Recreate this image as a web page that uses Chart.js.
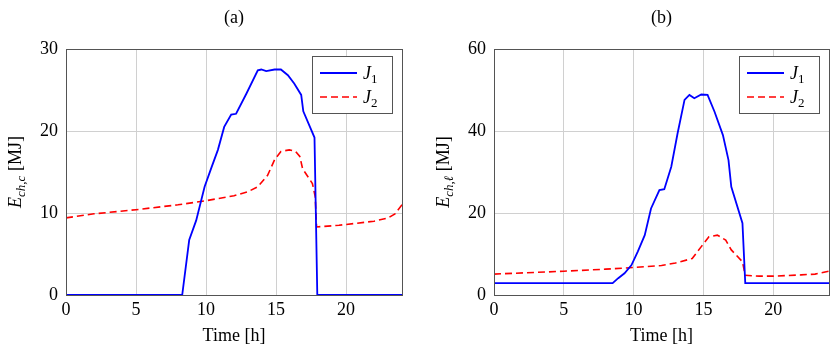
<!DOCTYPE html>
<html>
<head>
<meta charset="utf-8">
<script src="https://cdn.jsdelivr.net/npm/chart.js@4/dist/chart.umd.min.js"></script>
<style>
html, body { margin: 0; padding: 0; background: #fff; }
#wrap { position: relative; width: 830px; height: 353px; }
#chart-a { position: absolute; left: 0; top: 0; }
#chart-b { position: absolute; left: 415px; top: 0; }
</style>
</head>
<body>
<div id="wrap">
  <canvas id="chart-a" width="415" height="353"></canvas>
  <canvas id="chart-b" width="415" height="353"></canvas>
</div>
<script>
// (a) E_ch,c
const hoursA1 = [0, 8.3, 8.8, 9.3, 9.9, 10.4, 10.85, 11.3, 11.8, 12.15, 12.9, 13.7, 13.95, 14.3, 14.9, 15.35, 15.85, 16.3, 16.8, 16.95, 17.75, 17.95, 24];
const valuesA1 = [0, 0, 6.7, 9.1, 13.2, 15.6, 17.7, 20.5, 22.0, 22.1, 24.6, 27.4, 27.5, 27.3, 27.5, 27.5, 26.8, 25.8, 24.4, 22.4, 19.2, 0, 0];
const hoursA2 = [0, 2, 5, 8, 10, 12, 13, 13.7, 14.4, 14.9, 15.35, 15.95, 16.4, 16.7, 16.9, 17.6, 17.8, 17.9, 19.5, 22, 23, 23.5, 24];
const valuesA2 = [9.4, 9.9, 10.4, 11.0, 11.5, 12.1, 12.6, 13.2, 14.6, 16.5, 17.5, 17.7, 17.5, 16.9, 15.4, 13.6, 12.0, 8.3, 8.5, 9.0, 9.4, 9.9, 11.0];

// (b) E_ch,l
const hoursB1 = [0, 8.5, 8.9, 9.35, 9.85, 10.3, 10.8, 11.25, 11.85, 12.2, 12.7, 13.15, 13.65, 14.0, 14.35, 14.85, 15.3, 15.8, 16.4, 16.8, 17.0, 17.8, 18.0, 24];
const valuesB1 = [2.9, 2.9, 4.1, 5.3, 7.3, 10.6, 14.6, 21.1, 25.6, 25.8, 31.3, 39.4, 47.6, 48.8, 48.0, 48.9, 48.8, 44.7, 39.0, 32.9, 26.4, 17.5, 2.9, 2.9];
const hoursB2 = [0, 5, 8, 10, 12, 13, 14.2, 14.85, 15.4, 16.0, 16.6, 17.0, 17.8, 18.0, 19, 20, 22, 23, 24];
const valuesB2 = [5.1, 5.8, 6.3, 6.7, 7.2, 7.8, 8.9, 11.8, 14.2, 14.6, 13.4, 11.0, 8.1, 4.8, 4.6, 4.6, 4.9, 5.1, 5.8];

const xTicks = [0, 5, 10, 15, 20];
const seriesNames = ['J', 'J'];
const seriesSubs = ['1', '2'];

const serif = '"Liberation Serif", "DejaVu Serif", serif';

function points(xs, ys) {
    return xs.map((x, i) => ({ x: x, y: ys[i] }));
}

// draws a string made of pieces with own font and baseline shift
function drawPieces(ctx, pieces, x, y, align) {
    let total = 0;
    for (const p of pieces) {
        ctx.font = p.font;
        p.w = ctx.measureText(p.text).width;
        total += p.w;
    }
    let cx = align === 'center' ? x - total / 2 : x;
    ctx.textAlign = 'left';
    for (const p of pieces) {
        ctx.font = p.font;
        ctx.fillText(p.text, cx, y + (p.dy || 0));
        cx += p.w;
    }
}

const decor = {
    id: 'decor',
    afterDraw(chart, args, opts) {
        const { ctx, chartArea: a } = chart;
        ctx.save();
        // frame
        ctx.strokeStyle = '#545454';
        ctx.lineWidth = 1;
        ctx.strokeRect(Math.round(a.left) + 0.5, Math.round(a.top) + 0.5,
            Math.round(a.right - a.left), Math.round(a.bottom - a.top));

        ctx.fillStyle = '#000';
        ctx.textBaseline = 'alphabetic';

        // panel title
        ctx.font = '18px ' + serif;
        ctx.textAlign = 'center';
        ctx.fillText(opts.title, (a.left + a.right) / 2, 23);

        // y axis title, rotated
        ctx.save();
        ctx.translate(a.left - 45, (a.top + a.bottom) / 2);
        ctx.rotate(-Math.PI / 2);
        drawPieces(ctx, [
            { text: 'E', font: 'italic 18px ' + serif },
            { text: opts.sub, font: 'italic 13px ' + serif, dy: 4 },
            { text: ' [MJ]', font: '18px ' + serif }
        ], 0, 0, 'center');
        ctx.restore();

        // legend box
        const bw = 80, bh = 57;
        const bx = Math.round(a.right) - 10 - bw, by = Math.round(a.top) + 7;
        ctx.fillStyle = '#fff';
        ctx.fillRect(bx, by, bw, bh);
        ctx.strokeStyle = '#545454';
        ctx.strokeRect(bx + 0.5, by + 0.5, bw, bh);
        chart.data.datasets.forEach((ds, i) => {
            const ly = by + 17 + i * 24;
            ctx.strokeStyle = ds.borderColor;
            ctx.lineWidth = ds.borderWidth;
            ctx.setLineDash(ds.borderDash || []);
            ctx.beginPath();
            ctx.moveTo(bx + 8, ly);
            ctx.lineTo(bx + 45, ly);
            ctx.stroke();
            ctx.setLineDash([]);
            ctx.fillStyle = '#000';
            drawPieces(ctx, [
                { text: seriesNames[i], font: 'italic 18px ' + serif },
                { text: seriesSubs[i], font: '13px ' + serif, dy: 4 }
            ], bx + 51, ly + 6, 'left');
        });
        ctx.restore();
    }
};

function makeChart(canvas, title, sub, yMax, yStep, yWidth, padRight, d1, d2) {
    return new Chart(canvas.getContext('2d'), {
        type: 'line',
        data: {
            datasets: [{
                label: 'J1',
                data: d1,
                borderColor: '#0000ff',
                borderWidth: 1.8,
                pointRadius: 0,
                tension: 0,
                fill: false
            }, {
                label: 'J2',
                data: d2,
                borderColor: '#ff0000',
                borderWidth: 1.6,
                borderDash: [7, 4],
                pointRadius: 0,
                tension: 0,
                fill: false
            }]
        },
        options: {
            responsive: false,
            animation: false,
            layout: { padding: { top: 49, right: padRight, bottom: 0, left: 0 } },
            scales: {
                x: {
                    type: 'linear',
                    min: 0,
                    max: 24,
                    afterBuildTicks: (scale) => {
                        scale.ticks = xTicks.map(v => ({ value: v }));
                    },
                    afterFit: (scale) => { scale.height = 58; },
                    grid: { color: '#d0d0d0', drawTicks: false, lineWidth: 1 },
                    border: { color: '#545454' },
                    ticks: { color: '#000', padding: 4, font: { family: serif, size: 18 } },
                    title: {
                        display: true,
                        text: 'Time [h]',
                        color: '#000',
                        font: { family: serif, size: 18 },
                        padding: { top: 0, bottom: 6 }
                    }
                },
                y: {
                    min: 0,
                    max: yMax,
                    afterFit: (scale) => { scale.width = yWidth; },
                    grid: { color: '#d0d0d0', drawTicks: false, lineWidth: 1 },
                    border: { color: '#545454' },
                    ticks: { stepSize: yStep, color: '#000', padding: 8, font: { family: serif, size: 18 } }
                }
            },
            plugins: {
                legend: { display: false },
                tooltip: { enabled: false },
                decor: { title: title, sub: sub }
            }
        },
        plugins: [decor]
    });
}

makeChart(document.getElementById('chart-a'), '(a)', 'ch,c', 30, 10, 66, 13,
    points(hoursA1, valuesA1), points(hoursA2, valuesA2));
makeChart(document.getElementById('chart-b'), '(b)', 'ch,\u2113', 60, 20, 79, 1,
    points(hoursB1, valuesB1), points(hoursB2, valuesB2));
</script>
</body>
</html>
